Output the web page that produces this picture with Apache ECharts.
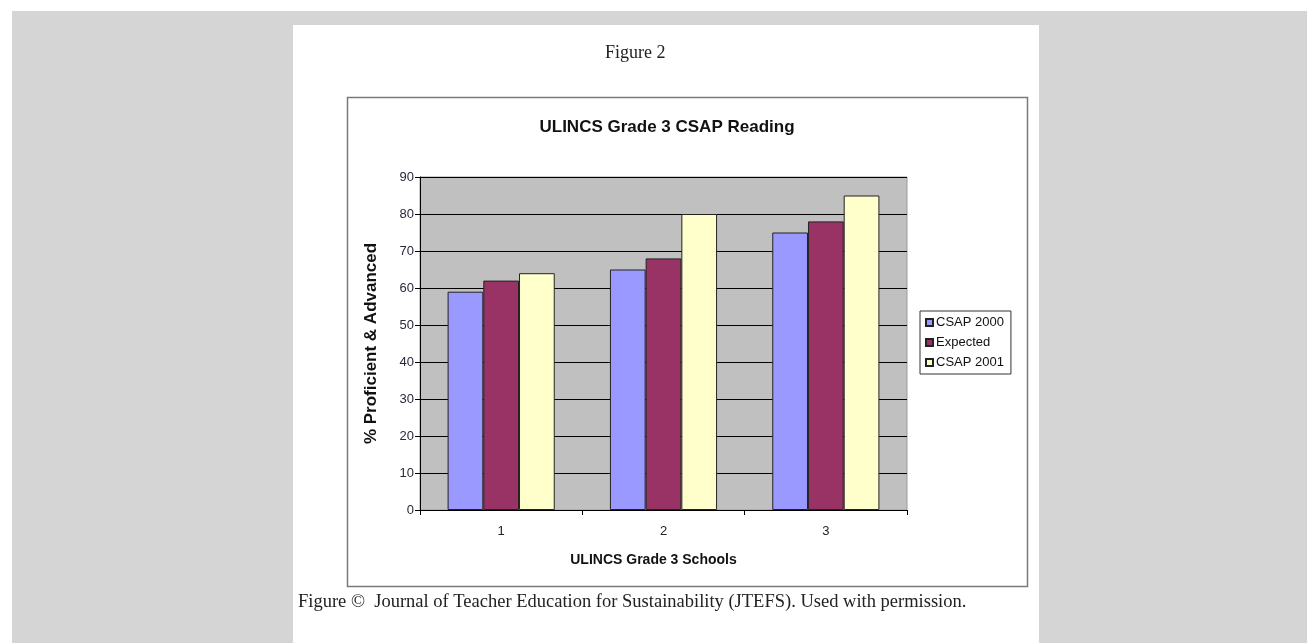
<!DOCTYPE html>
<html>
<head>
<meta charset="utf-8">
<script src="https://cdn.jsdelivr.net/npm/echarts@6/dist/echarts.min.js"></script>
<style>
  html, body { margin: 0; padding: 0; background: #ffffff; }
  #chart { width: 1307px; height: 643px; }
</style>
</head>
<body>
<div id="chart"></div>
<script>
var categories = ['1', '2', '3'];
var csap2000 = [59, 65, 75];
var expected = [62, 68, 78];
var csap2001 = [64, 80, 85];
var yTicks = { min: 0, max: 90, interval: 10 };

var chart = echarts.init(document.getElementById('chart'));
var sans = 'Liberation Sans, Arial, sans-serif';
var serif = 'Liberation Serif, Times New Roman, serif';

chart.setOption({
  animation: false,
  backgroundColor: '#ffffff',
  graphic: [
    { type: 'rect', z: -10, silent: true, shape: { x: 12, y: 11, width: 1295, height: 632 }, style: { fill: '#d5d5d5' } },
    { type: 'rect', z: -9, silent: true, shape: { x: 293, y: 25, width: 746, height: 618 }, style: { fill: '#ffffff' } },
    { type: 'rect', z: -8, silent: true, shape: { x: 347.5, y: 97.5, width: 680, height: 489 }, style: { fill: '#ffffff', stroke: '#7a7a7a', lineWidth: 1.5 } },
    { type: 'text', z: 5, left: 605, top: 44, style: { text: 'Figure 2', font: '18px ' + serif, fill: '#222' } },
    { type: 'text', z: 5, left: 298, top: 593, style: { text: 'Figure \u00A9  Journal of Teacher Education for Sustainability (JTEFS). Used with permission.', font: '18.5px ' + serif, fill: '#222' } }
  ],
  title: {
    text: 'ULINCS Grade 3 CSAP Reading',
    left: 662, top: 114, textAlign: 'center',
    textStyle: { fontFamily: sans, fontSize: 17, fontWeight: 'bold', color: '#111' }
  },
  legend: {
    orient: 'vertical',
    left: 920, top: 311,
    itemWidth: 7, itemHeight: 7, itemGap: 7,
    padding: [5, 7, 5, 5],
    borderColor: '#333', borderWidth: 1,
    backgroundColor: '#ffffff',
    icon: 'rect',
    textStyle: { fontFamily: sans, fontSize: 13, color: '#111', padding: [0, 0, 0, -2] },
    data: ['CSAP 2000', 'Expected', 'CSAP 2001']
  },
  grid: {
    left: 420, top: 177, right: 400, bottom: 133,
    show: true, backgroundColor: '#c0c0c0', borderColor: '#9a9a9a', borderWidth: 1
  },
  xAxis: {
    type: 'category',
    data: categories,
    axisLine: { show: true, lineStyle: { color: '#000', width: 1 } },
    axisTick: { show: true, length: 5, lineStyle: { color: '#000' } },
    axisLabel: { fontFamily: sans, fontSize: 13, color: '#222', margin: 15 },
    name: 'ULINCS Grade 3 Schools',
    nameLocation: 'middle',
    nameGap: 43,
    nameTextStyle: { fontFamily: sans, fontSize: 14, fontWeight: 'bold', color: '#111', padding: [0, 20, 0, 0] }
  },
  yAxis: {
    type: 'value',
    min: yTicks.min, max: yTicks.max, interval: yTicks.interval,
    axisLine: { show: true, lineStyle: { color: '#000', width: 1 } },
    axisTick: { show: true, length: 5, lineStyle: { color: '#000' } },
    splitLine: { show: true, lineStyle: { color: '#000', width: 1 } },
    axisLabel: { fontFamily: sans, fontSize: 13, color: '#2a2a3a', margin: 6 },
    name: '% Proficient & Advanced',
    nameLocation: 'middle',
    nameGap: 40,
    nameTextStyle: { fontFamily: sans, fontSize: 17, fontWeight: 'bold', color: '#111' }
  },
  series: [
    { name: 'CSAP 2000', type: 'bar', data: csap2000, barGap: '0%', barCategoryGap: '34%',
      itemStyle: { color: '#9999ff', borderColor: '#222', borderWidth: 1 } },
    { name: 'Expected', type: 'bar', data: expected, barGap: '0%', barCategoryGap: '34%',
      itemStyle: { color: '#993366', borderColor: '#222', borderWidth: 1 } },
    { name: 'CSAP 2001', type: 'bar', data: csap2001, barGap: '0%', barCategoryGap: '34%',
      itemStyle: { color: '#ffffcc', borderColor: '#222', borderWidth: 1 } }
  ]
});
</script>
</body>
</html>
